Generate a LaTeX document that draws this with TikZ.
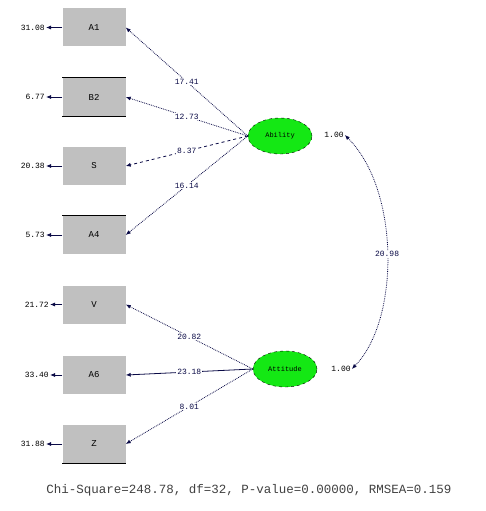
\documentclass[tikz,border=0pt]{standalone}
\usepackage{fontspec}
\setmonofont{Liberation Mono}
\usetikzlibrary{positioning, arrows.meta, shapes.geometric}
\definecolor{latgreen}{RGB}{20,232,20}
\definecolor{boxgray}{RGB}{192,192,192}
\definecolor{pathnavy}{RGB}{10,10,70}

\begin{document}
\begin{tikzpicture}[
    x=1pt, y=-1pt,
    >={Latex[length=5pt,width=4pt]},
    obs/.style={rectangle, fill=boxgray, minimum width=63pt, minimum height=38pt, inner sep=0pt, font=\ttfamily\fontsize{9}{9}\selectfont},
    lat/.style={ellipse, fill=latgreen, draw=black, dashed, minimum width=64pt, minimum height=36pt, inner sep=0pt, font=\ttfamily\fontsize{7}{7}\selectfont},
    errlab/.style={anchor=east, font=\ttfamily\fontsize{8}{8}\selectfont, inner sep=1pt},
    coef/.style={fill=white, inner sep=1pt, font=\ttfamily\fontsize{8}{8}\selectfont},
    path_link/.style={->, pathnavy, densely dotted, thick},
    edge_bar/.style={black, line width=1.3pt}
]
\useasboundingbox (0,0) rectangle (486,511);

% observed variables
\node[obs] (x1) at (94,27.5) {A1};
\node[obs] (x2) at (94,97)   {B2};
\node[obs] (x3) at (94,166)  {S};
\node[obs] (x4) at (94,235)  {A4};
\node[obs] (x5) at (94,304.5){V};
\node[obs] (x6) at (94,375)  {A6};
\node[obs] (x7) at (94,444)  {Z};

\draw[edge_bar] (x2.north west) -- (x2.north east);
\draw[edge_bar] (x2.south west) -- (x2.south east);
\draw[edge_bar] (x4.north west) -- (x4.north east);
\draw[edge_bar] (x7.south west) -- (x7.south east);

% error variances
\node[errlab] (e1) at (46,27.5)  {31.08};
\node[errlab] (e2) at (46,97)    {6.77};
\node[errlab] (e3) at (46,166)   {20.38};
\node[errlab] (e4) at (46,235)   {5.73};
\node[errlab] (e5) at (50,304.5) {21.72};
\node[errlab] (e6) at (50,375)   {33.40};
\node[errlab] (e7) at (46,444)   {31.88};
\foreach \i in {1,...,7}
    \draw[->, pathnavy, thick] (x\i.west) -- (e\i.east);

% latent variables
\node[lat] (Abil) at (280,136) {Ability};
\node[lat] (Atti) at (285,369) {Attitude};

% loadings
\draw[path_link] (Abil.west) -- (x1.east) node[coef, pos=0.5] {17.41};
\draw[path_link] (Abil.west) -- (x2.east) node[coef, pos=0.5] {12.73};
\draw[->, pathnavy, dashed, thick] (Abil.west) -- (x3.east) node[coef, pos=0.5] {8.37};
\draw[path_link] (Abil.west) -- (x4.east) node[coef, pos=0.5] {16.14};
\draw[path_link] (Atti.west) -- (x5.east) node[coef, pos=0.5] {20.82};
\draw[->, pathnavy, thick] (Atti.west) -- (x6.east) node[coef, pos=0.5] {23.18};
\draw[path_link] (Atti.west) -- (x7.east) node[coef, pos=0.5] {8.01};

% latent variances and covariance
\node[errlab, anchor=center] (v1) at (334,135) {1.00};
\node[errlab, anchor=center] (v2) at (341,369) {1.00};
\draw[<->, pathnavy, densely dotted, thick] (v1.east) .. controls (400,190) and (400,320) .. (v2.east)
    node[coef, pos=0.5] {20.98};

% fit statistics
\node[font=\ttfamily\fontsize{12.5}{12.5}\selectfont, text=black!75] (fit) at (249,490)
    {Chi-Square=248.78, df=32, P-value=0.00000, RMSEA=0.159};
\end{tikzpicture}
\end{document}
